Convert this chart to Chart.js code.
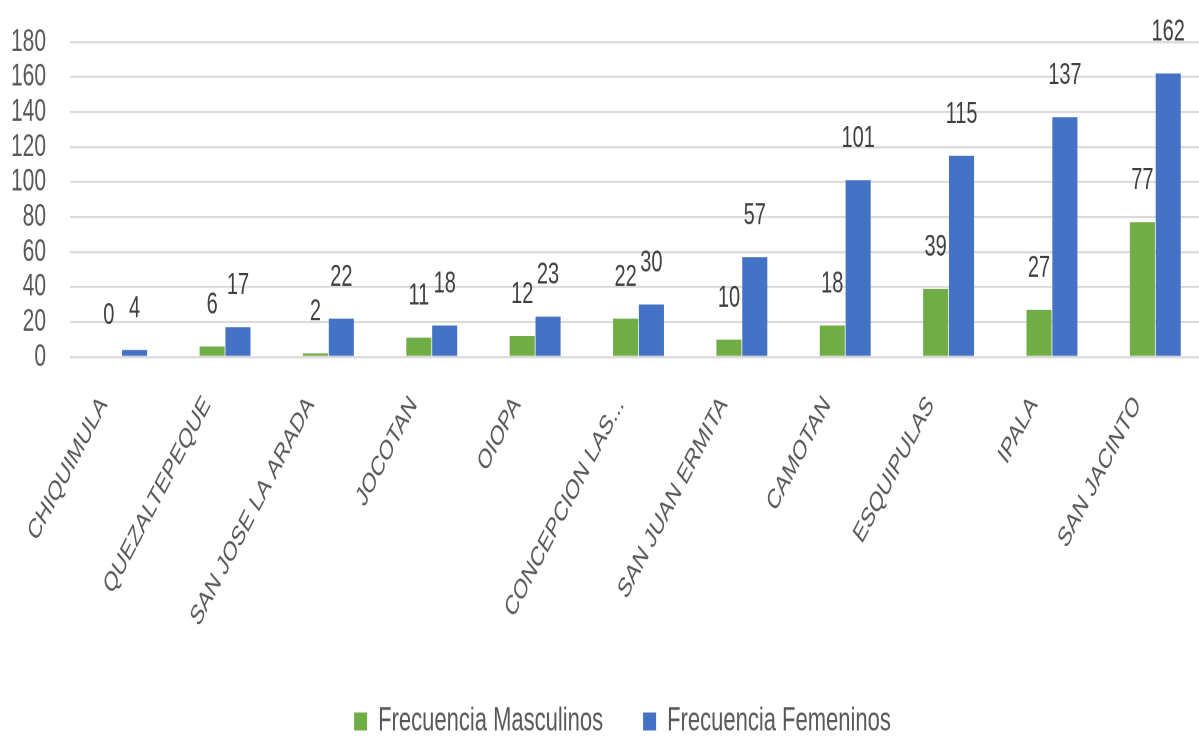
<!DOCTYPE html>
<html>
<head>
<meta charset="utf-8">
<script src="https://cdn.jsdelivr.net/npm/chart.js@4.4.0/dist/chart.umd.min.js"></script>
<style>
html, body { margin: 0; padding: 0; background: #fff; width: 1199px; height: 738px; overflow: hidden; }
/* el grafico original esta estirado en vertical, lo imitamos con scaleY */
#wrap { width: 1207px; height: 492px; transform: scaleY(1.5); transform-origin: 0 0; }
</style>
</head>
<body>
<div id="wrap"><canvas id="grafico"></canvas></div>
<script>
const municipios = ['CHIQUIMULA', 'QUEZALTEPEQUE', 'SAN JOSE LA ARADA', 'JOCOTAN', 'OIOPA',
    'CONCEPCION LAS...', 'SAN JUAN ERMITA', 'CAMOTAN', 'ESQUIPULAS', 'IPALA', 'SAN JACINTO'];
const masculinos = [0, 6, 2, 11, 12, 22, 10, 18, 39, 27, 77];
const femeninos = [4, 17, 22, 18, 23, 30, 57, 101, 115, 137, 162];
const ticksY = [0, 20, 40, 60, 80, 100, 120, 140, 160, 180];

const fuente = '"Liberation Sans", Arial, sans-serif';

// etiquetas de valor encima de cada barra
const etiquetasPlugin = {
    id: 'etiquetas',
    afterDatasetsDraw(chart) {
        const ctx = chart.ctx;
        ctx.save();
        ctx.font = '20px ' + fuente;
        ctx.fillStyle = '#404040';
        ctx.textAlign = 'center';
        ctx.textBaseline = 'alphabetic';
        chart.data.datasets.forEach((ds, i) => {
            chart.getDatasetMeta(i).data.forEach((bar, j) => {
                ctx.fillText(String(ds.data[j]), bar.x, bar.y - 22);
            });
        });
        ctx.restore();
    }
};

// la leyenda del original no esta centrada en el lienzo, la corremos un poco
const moverLeyenda = {
    id: 'moverLeyenda',
    afterLayout(chart) {
        const lg = chart.legend;
        lg.left += 19; lg.right += 19;
        lg.top += 10; lg.bottom += 10;
    }
};

const ctx = document.getElementById('grafico').getContext('2d');
new Chart(ctx, {
    type: 'bar',
    data: {
        labels: municipios,
        datasets: [{
            label: 'Frecuencia Masculinos',
            data: masculinos,
            backgroundColor: '#70AD47',
            categoryPercentage: 0.5,
            barPercentage: 0.97
        }, {
            label: 'Frecuencia Femeninos',
            data: femeninos,
            backgroundColor: '#4472C4',
            categoryPercentage: 0.5,
            barPercentage: 0.97
        }]
    },
    options: {
        responsive: true,
        maintainAspectRatio: false,
        animation: false,
        devicePixelRatio: 2,
        layout: { padding: { top: 28, left: 0, right: 0, bottom: 0 } },
        plugins: {
            legend: {
                position: 'bottom',
                labels: {
                    font: { family: fuente, size: 22 },
                    color: '#595959',
                    boxWidth: 13,
                    boxHeight: 12,
                    padding: 40
                }
            },
            tooltip: { enabled: false }
        },
        scales: {
            x: {
                grid: { display: false },
                border: { display: false },
                ticks: {
                    font: { family: fuente, size: 18.5 },
                    color: '#595959',
                    minRotation: 52,
                    maxRotation: 52,
                    autoSkip: false,
                    padding: 14,
                    labelOffset: -18
                },
                afterFit: s => { s.height = 182; }
            },
            y: {
                min: 0,
                max: 180,
                afterBuildTicks: s => { s.ticks = ticksY.map(v => ({ value: v })); },
                grid: { color: '#d9d9d9', lineWidth: 1.4, drawTicks: false },
                border: { display: false },
                ticks: {
                    font: { family: fuente, size: 21 },
                    color: '#595959',
                    padding: 24,
                    autoSkip: false
                },
                afterFit: s => {
                    s.width = 70;
                    // el padding de las marcas no debe empujar el area hacia abajo
                    s.paddingTop = 0;
                    s.paddingBottom = 0;
                }
            }
        }
    },
    plugins: [etiquetasPlugin, moverLeyenda]
});
</script>
</body>
</html>
